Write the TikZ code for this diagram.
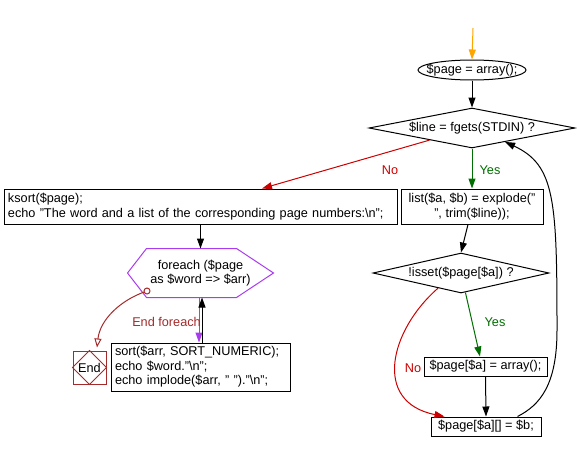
\documentclass[tikz,border=0pt]{standalone}
\usepackage{fontspec}
\setmainfont{Liberation Sans}
\usetikzlibrary{shapes.geometric,arrows.meta,calc}
\definecolor{cred}{RGB}{204,0,0}
\definecolor{cgreen}{RGB}{0,110,0}
\definecolor{cbrown}{RGB}{165,42,42}
\definecolor{cpurple}{RGB}{170,60,240}
\definecolor{corange}{RGB}{255,165,0}
\begin{document}
\begin{tikzpicture}[x=1pt,y=-1pt,line width=1pt,
  every node/.style={font=\fontsize{12.7}{14.5}\selectfont, inner sep=0pt},
  flow/.style={draw, line width=1pt, -{Triangle[length=10pt,width=7pt]}},
  lbl/.style={font=\fontsize{12.7}{14.5}\selectfont}]
\useasboundingbox (0,0) rectangle (577,452);
\coordinate (top) at (473,28);
\node[minimum width=108pt, minimum height=20pt] (init) at (472,70) {\$page = array();};
\draw (init.center) ellipse [x radius=54pt, y radius=10pt];
\node[diamond, draw, shape aspect=5, minimum width=206pt, minimum height=40pt] (cond1) at (472,128) {\$line = fgets(STDIN) ?};
\node[draw, minimum width=142pt, minimum height=35pt, align=center] (explode) at (472,206.5) {list(\$a, \$b) = explode("\\", trim(\$line));};
\node[diamond, draw, shape aspect=4.4, minimum width=176pt, minimum height=40pt] (cond2) at (461,273) {!isset(\$page[\$a]) ?};
\node[draw, minimum width=123pt, minimum height=19pt] (newarr) at (485.5,366.5) {\$page[\$a] = array();};
\node[draw, minimum width=110pt, minimum height=19pt] (push) at (486,426.5) {\$page[\$a][] = \$b;};
\node[draw, minimum width=393pt, minimum height=35pt, text width=385pt, align=left, inner xsep=4pt] (ksort) at (200.5,206.5) {ksort(\$page);\\echo "The word and a list of the corresponding page numbers:\textbackslash n";};
\node[minimum width=145pt, minimum height=48pt, align=center] (loop) at (200.5,273) {foreach (\$page\\as \$word => \$arr)};
\draw[cpurple] (loop.west) -- ($(loop.north west)+(19,0)$) -- ($(loop.north east)+(-37,0)$) -- (loop.east) -- ($(loop.south east)+(-37,0)$) -- ($(loop.south west)+(19,0)$) -- cycle;
\node[draw, minimum width=179pt, minimum height=48pt, text width=171pt, align=left, inner xsep=4pt] (body) at (200.5,367) {sort(\$arr, SORT\_NUMERIC);\\echo \$word."\textbackslash n";\\echo implode(\$arr, " ")."\textbackslash n";};
\node[draw=cbrown, minimum size=33pt, text=black] (end) at (89.5,367.5) {End};
\draw[cbrown] (end.north) -- (end.east) -- (end.south) -- (end.west) -- cycle;
% connectors
\draw[flow, corange] (top) -- (init.north);
\draw[flow] (init.south) -- (cond1.north);
\draw[flow, cgreen] (cond1.south) -- (explode.north);
\draw[flow, cred] ($(cond1.west)!0.59!(cond1.south)$) -- ($(ksort.north)+(61.5,0)$);
\draw[flow] ($(explode.south)+(-4,0)$) -- (cond2.north);
\draw[flow, cgreen] ($(cond2.south)!0.05!(cond2.east)$) -- ($(newarr.north)+(-5.5,0)$);
\draw[flow, cred] ($(cond2.west)!0.74!(cond2.south)$) .. controls (390,330) and (372,402) .. ($(push.north west)+(14,0)$);
\draw[flow] (newarr.south) -- (push.north);
\draw[flow] ($(push.north east)+(-24,0)$) .. controls (540,405) and (557,385) .. (557,330) .. controls (557,200) and (555,165) .. ($(cond1.south)!0.32!(cond1.east)$);
\draw[flow] (ksort.south) -- (loop.north);
\draw[flow, cpurple] ($(loop.south)+(-1.5,0)$) -- ($(body.north)+(-1.5,0)$);
\draw[flow] ($(body.north)+(1.5,0)$) -- ($(loop.south)+(1.5,0)$);
\coordinate (exit) at (147,291);
\draw[cbrown, -{Triangle[open,length=9pt,width=7pt]}] (exit) .. controls (120,300) and (100,320) .. ($(end.north)+(7.5,-3)$);
\draw[cbrown, fill=white] (exit) circle[radius=3pt];
% labels
\node[lbl, text=cred] (no1) at (390,170) {No};
\node[lbl, text=cgreen] (yes1) at (490,170) {Yes};
\node[lbl, text=cgreen] (yes2) at (495,322) {Yes};
\node[lbl, text=cred] (no2) at (413,368) {No};
\node[lbl, text=cbrown] (endlbl) at (166.5,322) {End foreach};
\end{tikzpicture}
\end{document}
